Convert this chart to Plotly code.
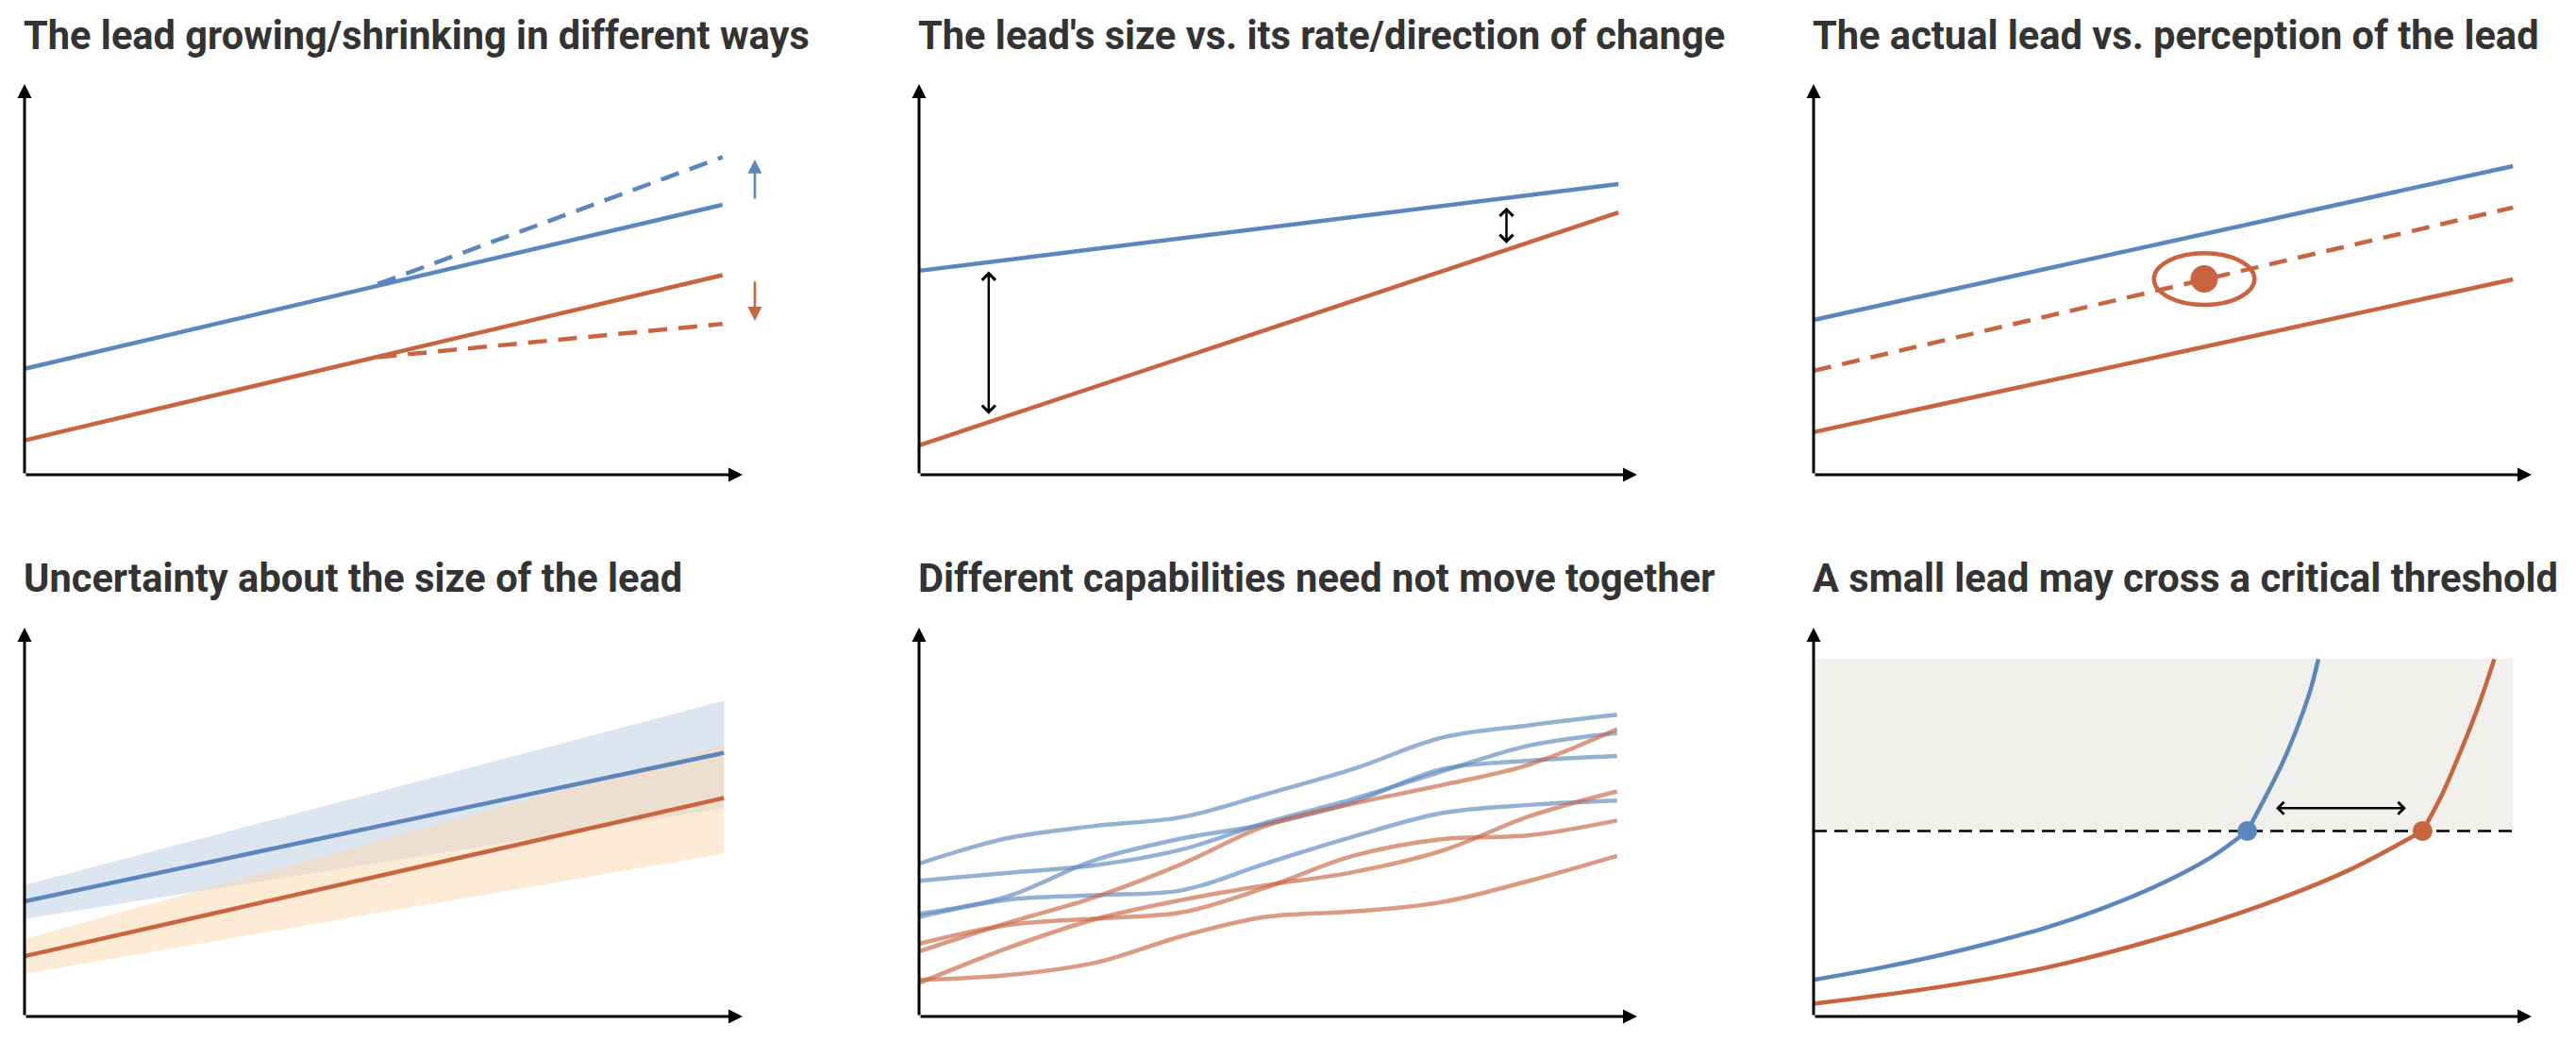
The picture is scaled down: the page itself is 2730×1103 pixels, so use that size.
import plotly.graph_objects as go

# ---------------- data (abstract units: x 0..100, y 0..100 per panel) ----------------
TITLES = [
    "The lead growing/shrinking in different ways",
    "The lead's size vs. its rate/direction of change",
    "The actual lead vs. perception of the lead",
    "Uncertainty about the size of the lead",
    "Different capabilities need not move together",
    "A small lead may cross a critical threshold",
]

# Panel 1
p1_blue_x = [0, 97.2]
p1_blue_y = [27.1, 69.1]
p1_blue_dash_x = [49.2, 97.2]
p1_blue_dash_y = [48.8, 81.3]
p1_red_x = [0, 97.2]
p1_red_y = [8.8, 51.1]
p1_red_dash_x = [49.2, 97.2]
p1_red_dash_y = [30.1, 38.6]
p1_up_arrow = [101.7, 70.3, 80.7]     # x, tail y, head y
p1_down_arrow = [101.7, 49.8, 39.4]

# Panel 2
p2_blue_x = [0, 97.4]
p2_blue_y = [52.2, 74.4]
p2_red_x = [0, 97.4]
p2_red_y = [7.5, 67.1]
p2_gap_left = [9.7, 52.4, 15.5]
p2_gap_right = [81.8, 68.8, 59.2]

# Panel 3
p3_blue_x = [0, 97.4]
p3_blue_y = [39.6, 79.0]
p3_perceived_x = [0, 97.4]
p3_perceived_y = [26.6, 68.4]
p3_red_x = [0, 97.4]
p3_red_y = [10.9, 50.0]
p3_dot = [54.4, 50.1]
p3_ring_half = [7.0, 6.6]

# Panel 4
p4_x = [0, 97.4]
p4_blue_y = [29.6, 67.8]
p4_blue_hi = [33.8, 81.2]
p4_blue_lo = [25.1, 53.6]
p4_red_y = [15.5, 56.2]
p4_red_hi = [19.9, 69.8]
p4_red_lo = [11.0, 41.9]

# Panel 5
p5_x = [0, 12.2, 24.5, 36.7, 48.2, 60.4, 72.8, 85.0, 97.2]
p5_blue = [
    [39.3, 45.8, 49.0, 51.3, 57.1, 63.6, 71.7, 74.9, 77.6],
    [34.9, 36.9, 38.9, 43.0, 49.8, 55.9, 63.0, 69.7, 72.9],
    [26.4, 30.8, 40.2, 45.8, 49.4, 55.1, 63.6, 65.8, 67.0],
    [25.6, 30.0, 31.2, 32.5, 39.3, 46.2, 52.3, 54.4, 55.5],
]
p5_red = [
    [16.7, 24.0, 30.7, 39.3, 49.0, 54.7, 59.5, 64.8, 73.9],
    [18.7, 23.5, 25.2, 26.8, 33.1, 41.3, 45.6, 46.6, 50.4],
    [8.6, 17.5, 25.0, 30.0, 33.7, 37.1, 42.6, 51.5, 57.9],
    [9.4, 10.6, 13.8, 20.7, 25.6, 27.0, 29.4, 34.9, 41.3],
]

# Panel 6 (curves below and above the threshold)
p6_blue_low_x = [0, 9.5, 17.2, 24.8, 32.5, 40.1, 47.8, 55.4, 60.4]
p6_blue_low_y = [9.4, 12.6, 15.6, 19.0, 22.9, 27.7, 33.6, 41.0, 47.7]
p6_blue_high_x = [60.4, 63.0, 65.3, 67.6, 69.2, 70.3]
p6_blue_high_y = [47.7, 56.7, 65.2, 75.5, 84.0, 91.9]
p6_red_low_x = [0, 17.2, 32.5, 47.8, 63.0, 74.5, 84.8]
p6_red_low_y = [3.3, 7.5, 12.6, 19.9, 29.0, 37.6, 47.7]
p6_red_high_x = [84.8, 87.5, 89.8, 92.5, 94.8]
p6_red_high_y = [47.7, 57.0, 66.8, 79.4, 91.9]
p6_threshold = 47.7
p6_zone_x = [0, 97.4]
p6_zone_top = 92.0
p6_dots_x = [60.4, 84.8]
p6_gap = [64.2, 82.5, 53.6]   # x start, x end, y

# ---------------- styling ----------------
W, H = 2730, 1103
BLUE = "#5B87BD"
RED = "#C8643F"
BLUE_T = "rgba(91,135,189,0.65)"
RED_T = "rgba(200,100,63,0.65)"
TITLE_COLOR = "#333333"
PXX = 7.61
COLS = [26, 974, 1922]
ROWS = [(503, 89), (1077, 665)]
XR = (-3, 106)
YR = (-3, 104)

fig = go.Figure()
layout = dict(width=W, height=H, margin=dict(l=0, r=0, t=0, b=0),
              paper_bgcolor="white", plot_bgcolor="white", showlegend=False,
              autosize=False)
annotations = []
shapes = []


def axn(k):
    return ("x" if k == 1 else f"x{k}"), ("y" if k == 1 else f"y{k}")


for k in range(1, 7):
    r, c = divmod(k - 1, 3)
    x0 = COLS[c]
    yb, yt = ROWS[r]
    sy = (yb - yt) / 100.0
    left = x0 + XR[0] * PXX
    right = x0 + XR[1] * PXX
    bottom = yb - YR[0] * sy
    top = yb - YR[1] * sy
    xa, ya = axn(k)
    layout["xaxis" if k == 1 else f"xaxis{k}"] = dict(
        domain=[left / W, right / W], range=list(XR), visible=False,
        anchor=ya, fixedrange=True)
    layout["yaxis" if k == 1 else f"yaxis{k}"] = dict(
        domain=[1 - bottom / H, 1 - top / H], range=list(YR), visible=False,
        anchor=xa, fixedrange=True)
    # axis arrows
    for hx, hy in ((0, 100), (100, 0)):
        annotations.append(dict(x=hx, y=hy, ax=0, ay=0, xref=xa, yref=ya,
                                axref=xa, ayref=ya, text="", showarrow=True,
                                arrowhead=2, arrowsize=1, arrowwidth=3,
                                arrowcolor="black", standoff=0))
    # title
    title_y = 38 if r == 0 else 612
    annotations.append(dict(x=(x0 - 3) / W, y=1 - title_y / H, xref="paper",
                            yref="paper", xanchor="left", yanchor="middle",
                            text="<b>" + TITLES[k - 1] + "</b>", showarrow=False,
                            font=dict(family="Roboto", size=41.6, color=TITLE_COLOR)))


def line(k, xs, ys, color, width=4.5, dash=None, shape="linear"):
    xa, ya = axn(k)
    fig.add_trace(go.Scatter(x=xs, y=ys, xaxis=xa, yaxis=ya, mode="lines",
                             line=dict(color=color, width=width, dash=dash, shape=shape),
                             hoverinfo="skip"))


def arrow(k, x, y, ax, ay, color, width, head, size, both=False):
    xa, ya = axn(k)
    d = dict(x=x, y=y, ax=ax, ay=ay, xref=xa, yref=ya, axref=xa, ayref=ya,
             text="", showarrow=True, arrowhead=head, arrowsize=size,
             arrowwidth=width, arrowcolor=color, standoff=0)
    if both:
        d.update(arrowside="end+start", startarrowhead=head, startarrowsize=size,
                 startstandoff=0)
    annotations.append(d)


DASH = "20px,12px"

# Panel 1
line(1, p1_blue_dash_x, p1_blue_dash_y, BLUE, dash=DASH)
line(1, p1_red_dash_x, p1_red_dash_y, RED, dash=DASH)
line(1, p1_blue_x, p1_blue_y, BLUE)
line(1, p1_red_x, p1_red_y, RED)
arrow(1, p1_up_arrow[0], p1_up_arrow[2], p1_up_arrow[0], p1_up_arrow[1], BLUE, 2.6, 2, 1.15)
arrow(1, p1_down_arrow[0], p1_down_arrow[2], p1_down_arrow[0], p1_down_arrow[1], RED, 2.6, 2, 1.15)

# Panel 2
line(2, p2_blue_x, p2_blue_y, BLUE)
line(2, p2_red_x, p2_red_y, RED)
arrow(2, p2_gap_left[0], p2_gap_left[2], p2_gap_left[0], p2_gap_left[1], "black", 2.5, 4, 1.1, both=True)
arrow(2, p2_gap_right[0], p2_gap_right[2], p2_gap_right[0], p2_gap_right[1], "black", 2.5, 4, 1.1, both=True)

# Panel 3
line(3, p3_blue_x, p3_blue_y, BLUE)
line(3, p3_perceived_x, p3_perceived_y, RED, dash="19px,12px")
line(3, p3_red_x, p3_red_y, RED)
fig.add_trace(go.Scatter(x=[p3_dot[0]], y=[p3_dot[1]], xaxis="x3", yaxis="y3",
                         mode="markers", marker=dict(size=29, color=RED),
                         hoverinfo="skip"))
shapes.append(dict(type="circle", xref="x3", yref="y3",
                   x0=p3_dot[0] - p3_ring_half[0], x1=p3_dot[0] + p3_ring_half[0],
                   y0=p3_dot[1] - p3_ring_half[1], y1=p3_dot[1] + p3_ring_half[1],
                   line=dict(color=RED, width=4.5)))

# Panel 4
fig.add_trace(go.Scatter(x=p4_x, y=p4_blue_lo, xaxis="x4", yaxis="y4", mode="lines",
                         line=dict(width=0), hoverinfo="skip"))
fig.add_trace(go.Scatter(x=p4_x, y=p4_blue_hi, xaxis="x4", yaxis="y4", mode="lines",
                         line=dict(width=0), fill="tonexty",
                         fillcolor="rgb(220,230,240)", hoverinfo="skip"))
fig.add_trace(go.Scatter(x=p4_x, y=p4_red_lo, xaxis="x4", yaxis="y4", mode="lines",
                         line=dict(width=0), hoverinfo="skip"))
fig.add_trace(go.Scatter(x=p4_x, y=p4_red_hi, xaxis="x4", yaxis="y4", mode="lines",
                         line=dict(width=0), fill="tonexty",
                         fillcolor="rgba(251,215,173,0.5)", hoverinfo="skip"))
line(4, p4_x, p4_blue_y, BLUE)
line(4, p4_x, p4_red_y, RED)

# Panel 5
for ys in p5_blue:
    line(5, p5_x, ys, BLUE_T, width=4.5, shape="spline")
for ys in p5_red:
    line(5, p5_x, ys, RED_T, width=4.5, shape="spline")

# Panel 6
shapes.append(dict(type="rect", xref="x6", yref="y6", x0=p6_zone_x[0], x1=p6_zone_x[1],
                   y0=p6_threshold, y1=p6_zone_top, fillcolor="#F1F0EC",
                   line=dict(width=0), layer="below"))
line(6, p6_zone_x, [p6_threshold, p6_threshold], "black", width=2.5, dash="14px,8px")
line(6, p6_blue_low_x, p6_blue_low_y, BLUE, shape="spline")
line(6, p6_blue_high_x, p6_blue_high_y, BLUE, shape="spline")
line(6, p6_red_low_x, p6_red_low_y, RED, shape="spline")
line(6, p6_red_high_x, p6_red_high_y, RED, shape="spline")
fig.add_trace(go.Scatter(x=p6_dots_x, y=[p6_threshold, p6_threshold], xaxis="x6",
                         yaxis="y6", mode="markers",
                         marker=dict(size=21, color=[BLUE, RED]), hoverinfo="skip"))
arrow(6, p6_gap[1], p6_gap[2], p6_gap[0], p6_gap[2], "black", 2.5, 4, 1.0, both=True)

layout["annotations"] = annotations
layout["shapes"] = shapes
fig.update_layout(**layout)

fig.write_html("out.html", config={"displayModeBar": False, "staticPlot": True},
               post_script="document.body.style.margin='0';document.body.style.overflow='hidden';")
